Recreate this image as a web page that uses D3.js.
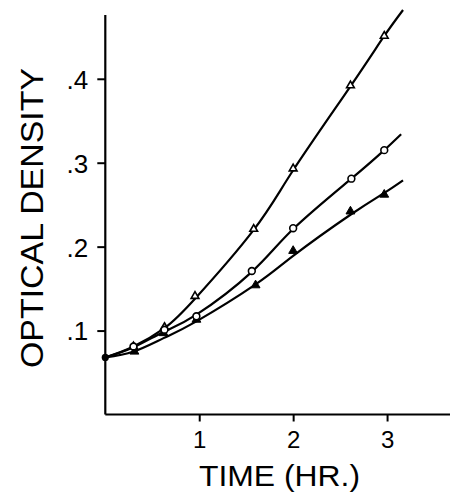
<!DOCTYPE html>
<html>
<head>
<meta charset="utf-8">
<script src="https://cdn.jsdelivr.net/npm/d3@7/dist/d3.min.js"></script>
<style>
  html, body { margin: 0; padding: 0; background: #fff; }
  svg { display: block; }
  text { font-family: "Liberation Sans", "DejaVu Sans", sans-serif; fill: #000; }
</style>
</head>
<body>
<svg id="chart" width="450" height="493"></svg>
<script>
// ---- data ----
const xTicks = [1, 2, 3];
const xTickLabels = ["1", "2", "3"];
const yTicks = [0.1, 0.2, 0.3, 0.4];
const yTickLabels = [".1", ".2", ".3", ".4"];

// measured points
const openTriHours   = [0, 0.3, 0.63, 0.955, 1.58, 2.0, 2.61, 2.97];
const openTriValues  = [0.068, 0.081, 0.104, 0.141, 0.221, 0.293, 0.392, 0.451];
const circleHours    = [0, 0.3, 0.63, 0.97, 1.56, 2.0, 2.62, 2.97];
const circleValues   = [0.068, 0.081, 0.101, 0.117, 0.171, 0.222, 0.281, 0.315];
const fillTriHours   = [0, 0.31, 0.62, 0.97, 1.6, 2.0, 2.61, 2.97];
const fillTriValues  = [0.068, 0.075, 0.097, 0.113, 0.154, 0.195, 0.242, 0.262];

// fitted (hand-drawn) curves
const openTriCurveHours  = [0, 0.3, 0.63, 0.955, 1.58, 2.0, 2.61, 2.97, 3.17];
const openTriCurveValues = [0.068, 0.081, 0.103, 0.138, 0.220, 0.291, 0.391, 0.451, 0.482];
const circleCurveHours   = [0, 0.3, 0.63, 0.97, 1.56, 2.0, 2.62, 2.97, 3.15];
const circleCurveValues  = [0.068, 0.080, 0.099, 0.119, 0.170, 0.221, 0.281, 0.315, 0.334];
const fillTriCurveHours  = [0, 0.3, 0.62, 0.97, 1.6, 2.0, 2.61, 2.97, 3.17];
const fillTriCurveValues = [0.068, 0.075, 0.091, 0.111, 0.155, 0.189, 0.238, 0.264, 0.279];

// ---- layout ----
const svg = d3.select("#chart");
const x = d3.scaleLinear().domain([0, 3.67]).range([105.3, 450]);
const y = d3.scaleLinear().domain([0, 0.476]).range([414.5, 15]);

const g = svg.append("g");

// axes
const yAxis = d3.axisLeft(y).tickValues(yTicks)
  .tickFormat((d, i) => yTickLabels[i]).tickSize(8).tickPadding(9);
const xAxis = d3.axisBottom(x).tickValues(xTicks)
  .tickFormat((d, i) => xTickLabels[i]).tickSize(7).tickPadding(9);

const ya = g.append("g").attr("transform", `translate(${x(0)},0)`).call(yAxis);
const xa = g.append("g").attr("transform", `translate(0,${y(0)})`).call(xAxis);
[ya, xa].forEach(a => {
  a.select(".domain").attr("stroke", "#000").attr("stroke-width", 2.2);
  a.selectAll(".tick line").attr("stroke", "#000").attr("stroke-width", 2);
  a.selectAll(".tick text").attr("fill", "#000")
    .style("font-family", '"Liberation Sans", "DejaVu Sans", sans-serif');
});
ya.selectAll(".tick text").attr("font-size", 26).attr("dy", "0.36em");
xa.selectAll(".tick text").attr("font-size", 24).attr("dy", "0.72em");
ya.select(".domain").attr("d", `M0,${y(0)}V${y(0.476)}`);
xa.select(".domain").attr("d", `M${x(0)},0H${x(3.67)}`);

// axis titles
svg.append("text")
  .attr("transform", `translate(43,${218}) rotate(-90)`)
  .attr("text-anchor", "middle")
  .attr("font-size", 31)
  .attr("textLength", 300).attr("lengthAdjust", "spacingAndGlyphs")
  .text("OPTICAL  DENSITY");

svg.append("text")
  .attr("x", 199).attr("y", 486)
  .attr("font-size", 30)
  .attr("textLength", 161).attr("lengthAdjust", "spacingAndGlyphs")
  .text("TIME  (HR.)");

// curves
const line = d3.line().x(d => x(d[0])).y(d => y(d[1])).curve(d3.curveNatural);
const curves = [
  d3.zip(openTriCurveHours, openTriCurveValues),
  d3.zip(circleCurveHours, circleCurveValues),
  d3.zip(fillTriCurveHours, fillTriCurveValues)
];
g.selectAll("path.curve").data(curves).join("path")
  .attr("class", "curve")
  .attr("d", line)
  .attr("fill", "none").attr("stroke", "#000").attr("stroke-width", 2.2);

// markers
const tri = d3.symbol().type(d3.symbolTriangle).size(26);
g.selectAll("path.otri").data(d3.zip(openTriHours, openTriValues).slice(1)).join("path")
  .attr("class", "otri")
  .attr("transform", d => `translate(${x(d[0])},${y(d[1])})`)
  .attr("d", tri)
  .attr("fill", "#fff").attr("stroke", "#000").attr("stroke-width", 1.6);

g.selectAll("path.ftri").data(d3.zip(fillTriHours, fillTriValues).slice(1)).join("path")
  .attr("class", "ftri")
  .attr("transform", d => `translate(${x(d[0])},${y(d[1])})`)
  .attr("d", d3.symbol().type(d3.symbolTriangle).size(34))
  .attr("fill", "#000").attr("stroke", "#000").attr("stroke-width", 1);

g.selectAll("circle.oc").data(d3.zip(circleHours, circleValues).slice(1)).join("circle")
  .attr("class", "oc")
  .attr("cx", d => x(d[0])).attr("cy", d => y(d[1]))
  .attr("r", 3.4)
  .attr("fill", "#fff").attr("stroke", "#000").attr("stroke-width", 1.6);

// common starting point
g.append("circle")
  .attr("cx", x(openTriHours[0])).attr("cy", y(openTriValues[0]))
  .attr("r", 3.6).attr("fill", "#000");
</script>
</body>
</html>
